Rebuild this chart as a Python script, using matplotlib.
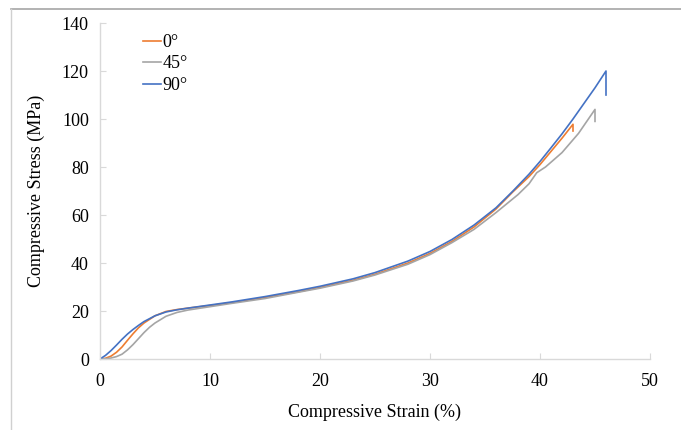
import numpy as np
import matplotlib.pyplot as plt
from matplotlib.lines import Line2D

plt.rcParams['font.family'] = ['Liberation Serif', 'DejaVu Serif']

# strain (%) and stress (MPa)
strain_0 = [0, 0.5, 1, 1.5, 2, 2.5, 3, 3.5, 4, 5, 6, 7, 8, 10, 12, 15, 18, 20, 23, 25, 28, 30,
            32, 34, 36, 37.5, 39, 40, 41, 42, 43, 43]
stress_0 = [0, 0.3, 1.2, 2.8, 5, 7.8, 10.5, 13, 15, 18, 19.8, 20.6, 21.2, 22.3, 23.5, 25.6, 28, 29.8,
            32.8, 35.3, 40, 44, 49, 55, 62.5, 69.5, 76, 81, 86.5, 92, 97.8, 95]
strain_45 = [0, 0.5, 1, 1.5, 2, 2.5, 3, 3.5, 4, 4.5, 5, 6, 7, 8, 10, 12, 15, 18, 20, 23, 25, 28, 30,
             32, 34, 36, 38, 39, 39.7, 40.5, 42, 43.5, 45, 45]
stress_45 = [0, 0.1, 0.4, 1, 2, 3.8, 6, 8.5, 11, 13.2, 15, 17.8, 19.4, 20.4, 21.8, 23.2, 25.2, 27.8,
             29.5, 32.5, 35, 39.5, 43.5, 48.5, 54, 61, 68.5, 73, 77.6, 80, 86, 94, 104, 99]
strain_90 = [0, 0.5, 1, 1.5, 2, 2.5, 3, 3.5, 4, 5, 6, 7, 8, 10, 12, 15, 18, 20, 23, 25, 28, 30,
             32, 34, 36, 37.5, 39, 40, 41, 42, 43, 44, 45, 46, 46]
stress_90 = [0, 1.5, 3.5, 5.8, 8.2, 10.4, 12.3, 14, 15.6, 18, 19.6, 20.5, 21.2, 22.5, 23.8, 26, 28.5,
             30.3, 33.4, 36, 40.8, 44.8, 49.8, 55.8, 63, 69.8, 77, 82.3, 88, 93.8, 100, 106.5, 113, 120, 110]

fig = plt.figure(figsize=(6.81, 4.30), dpi=100)
ax = fig.add_axes([100 / 681, (430 - 359) / 430, 550 / 681, 336 / 430])

ax.plot(strain_0, stress_0, color='#ED7D31', lw=1.2, label='0°')
ax.plot(strain_45, stress_45, color='#A5A5A5', lw=1.2, label='45°')
ax.plot(strain_90, stress_90, color='#4472C4', lw=1.2, label='90°')

ax.set_xlim(0, 50)
ax.set_ylim(0, 140)
ax.set_xticks(np.arange(0, 51, 10))
ax.set_yticks(np.arange(0, 141, 20))
for s in ['top', 'right']:
    ax.spines[s].set_visible(False)
for s in ['left', 'bottom']:
    ax.spines[s].set_color('#D9D9D9')
    ax.spines[s].set_linewidth(1.0)
ax.tick_params(direction='in', length=4, color='#D9D9D9', labelsize=13)
ax.tick_params(axis='x', pad=10)
ax.tick_params(axis='y', pad=8)

ax.set_xlabel('Compressive Strain (%)', fontsize=13, labelpad=10)
ax.set_ylabel('Compressive Stress (MPa)', fontsize=13, labelpad=12)

ax.legend(loc='upper left', bbox_to_anchor=(0.058, 1.0), frameon=False, fontsize=13,
          handlelength=1.0, handletextpad=0.1, labelspacing=0.25, borderaxespad=0.2)

# outer chart frame (only top and left edges visible)
fig.add_artist(Line2D([11 / 681, 1], [1 - 9 / 430, 1 - 9 / 430], transform=fig.transFigure,
                      color='#A6A6A6', lw=1.2))
fig.add_artist(Line2D([11 / 681, 11 / 681], [0, 1 - 9 / 430], transform=fig.transFigure,
                      color='#D0D0D0', lw=1.0))

fig.savefig('out.png', dpi=100)
